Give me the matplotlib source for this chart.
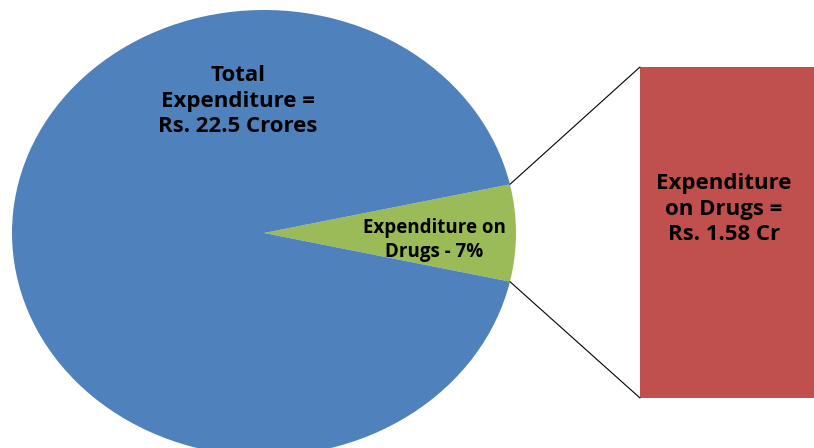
import matplotlib
matplotlib.use("Agg")
import matplotlib.pyplot as plt
from matplotlib.patches import ConnectionPatch
import numpy as np

# Expenditure figures (Rs. crores)
total_expenditure = 22.5
drug_expenditure = 1.58
shares = [7, 93]  # percent: drugs, everything else
share_colors = ["#9BBB59", "#4F81BD"]
bar_color = "#C0504D"

total_label = "Total\nExpenditure =\nRs. 22.5 Crores"
drug_share_label = "Expenditure on\nDrugs - 7%"
drug_bar_label = "Expenditure\non Drugs =\nRs. 1.58 Cr"

W, H = 814, 448
fig = plt.figure(figsize=(W / 100, H / 100), dpi=100)
fig.patch.set_facecolor("white")

def frac_box(x0, y0, x1, y1):
    """Pixel box (top-left origin) -> figure fraction [l, b, w, h]."""
    return [x0 / W, 1 - y1 / H, (x1 - x0) / W, (y1 - y0) / H]

plt.rcParams["font.family"] = ["Open Sans", "DejaVu Sans"]

# Pie, stretched into an ellipse
ax_pie = fig.add_axes(frac_box(12, 10, 516, 456))
drug_angle = shares[0] / sum(shares) * 360
start = -drug_angle / 2
ax_pie.pie(shares, colors=share_colors, startangle=start, counterclock=True,
           radius=1, wedgeprops=dict(linewidth=0))
ax_pie.set_aspect("auto")
ax_pie.set_xlim(-1, 1)
ax_pie.set_ylim(-1, 1)
ax_pie.axis("off")

# Bar breaking out the drug share
ax_bar = fig.add_axes(frac_box(640, 67, 814, 398))
ax_bar.bar([0], [drug_expenditure], width=1, color=bar_color, linewidth=0)
ax_bar.set_xlim(-0.5, 0.5)
ax_bar.set_ylim(0, drug_expenditure)
ax_bar.axis("off")

# Connector lines from the wedge edge to the bar corners
for ang, ycorner in [(start + drug_angle, drug_expenditure), (start, 0)]:
    t = np.deg2rad(ang)
    con = ConnectionPatch(xyA=(np.cos(t), np.sin(t)), coordsA=ax_pie.transData,
                          xyB=(-0.5, ycorner), coordsB=ax_bar.transData,
                          color="black", linewidth=0.8)
    fig.add_artist(con)

fig.text(238 / W, 1 - 101 / H, total_label, ha="center", va="center",
         fontsize=16, fontweight="bold", linespacing=1.3)
fig.text(434 / W, 1 - 240 / H, drug_share_label, ha="center", va="center",
         fontsize=13.5, fontweight="bold", linespacing=1.3)
fig.text(724 / W, 1 - 209 / H, drug_bar_label, ha="center", va="center",
         fontsize=16, fontweight="bold", linespacing=1.3)

fig.savefig("out.png", dpi=100)
